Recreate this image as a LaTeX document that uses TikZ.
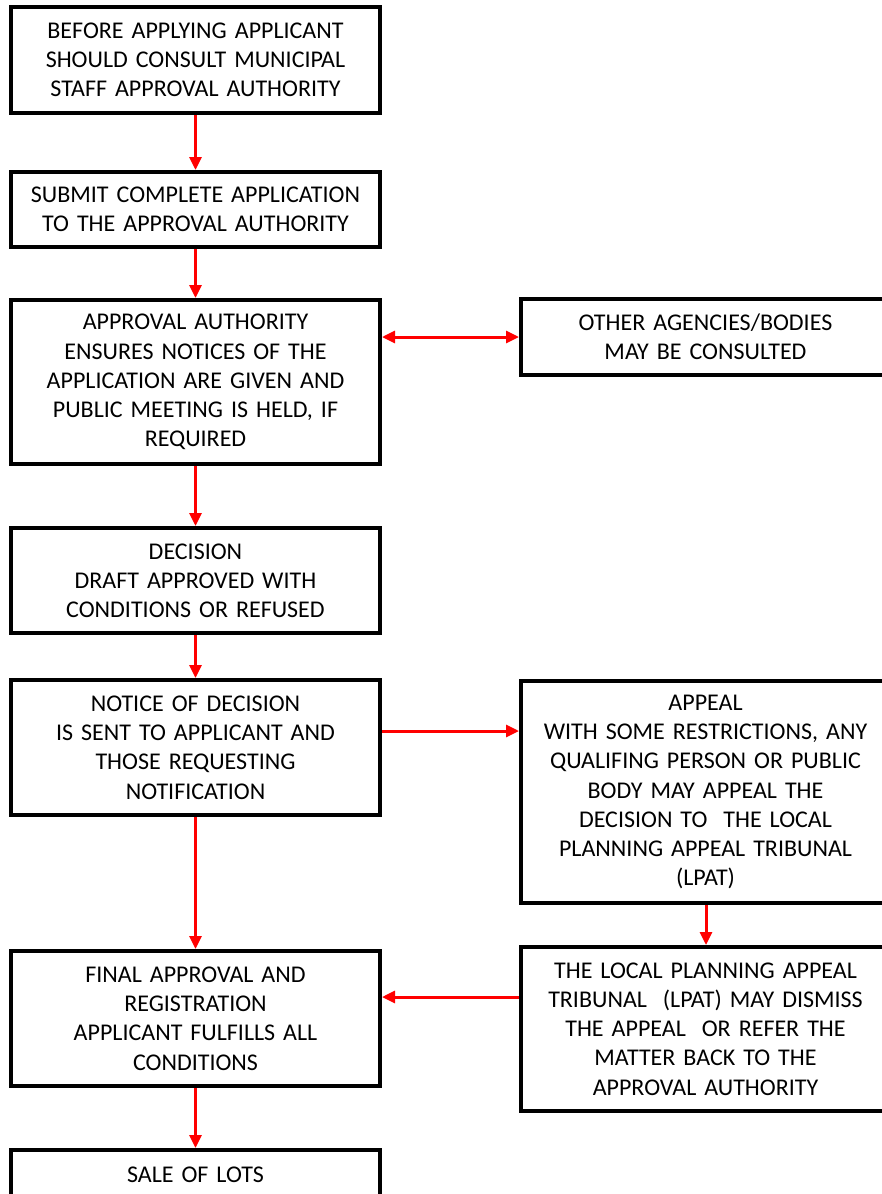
\documentclass[tikz,border=0pt]{standalone}
\usepackage{fontspec}
\setmainfont{Carlito}
\usetikzlibrary{arrows.meta}

\begin{document}
\begin{tikzpicture}[x = 0.5pt, y = -0.5pt, > = {Triangle[length=6.5pt, width=6pt]},
		box/.style = {draw, line width = 2pt, rectangle, minimum width = 184.5pt, text width = 180pt, align = center, inner sep = 0pt, font = \fontsize{12}{14.6}\selectfont}]

	\useasboundingbox (0, 0) rectangle (882, 1194);
	\clip (0, 0) rectangle (882, 1194);

	\node [box, minimum height = 53pt] (before) at (195.5, 60) {BEFORE APPLYING APPLICANT\\ SHOULD CONSULT MUNICIPAL\\ STAFF APPROVAL AUTHORITY};
	\node [box, minimum height = 37.5pt] (submit) at (195.5, 209.5) {SUBMIT COMPLETE APPLICATION\\ TO THE APPROVAL AUTHORITY};
	\node [box, minimum height = 82pt] (ensure) at (195.5, 382) {APPROVAL AUTHORITY\\ ENSURES NOTICES OF THE\\ APPLICATION ARE GIVEN AND\\ PUBLIC MEETING IS HELD, IF\\ REQUIRED};
	\node [box, minimum height = 52.5pt] (decision) at (195.5, 580.5) {DECISION\\ DRAFT APPROVED WITH\\ CONDITIONS OR REFUSED};
	\node [box, minimum height = 67.5pt] (notice) at (195.5, 747.5) {NOTICE OF DECISION\\ IS SENT TO APPLICANT AND\\ THOSE REQUESTING\\ NOTIFICATION};
	\node [box, minimum height = 67.5pt] (final) at (195.5, 1018.5) {FINAL APPROVAL AND\\ REGISTRATION\\ APPLICANT FULFILLS ALL\\ CONDITIONS};
	\node [box, minimum height = 25pt] (sale) at (195.5, 1175) {SALE OF LOTS};

	\node [box, minimum height = 38pt] (agencies) at (705.5, 337) {OTHER AGENCIES/BODIES\\ MAY BE CONSULTED};
	\node [box, minimum height = 111pt] (appeal) at (705.5, 792) {APPEAL\\ WITH SOME RESTRICTIONS, ANY\\ QUALIFING PERSON OR PUBLIC\\ BODY MAY APPEAL THE\\ DECISION TO~ THE LOCAL\\ PLANNING APPEAL TRIBUNAL\\ (LPAT)};
	\node [box, minimum height = 82pt] (lpat) at (705.5, 1029) {THE LOCAL PLANNING APPEAL\\ TRIBUNAL~ (LPAT) MAY DISMISS\\ THE APPEAL~ OR REFER THE\\ MATTER BACK TO THE\\ APPROVAL AUTHORITY};

	\begin{scope}[->, red, line width = 1.5pt]

		\draw (before) -- (submit);
		\draw (submit) -- (ensure);
		\draw (ensure) -- (decision);
		\draw (decision) -- (notice);
		\draw (notice) -- (final);
		\draw (final) -- (sale);

		\draw [<->] (agencies.west -| ensure.east) -- (agencies.west);
		\draw ([yshift = 8.25pt] notice.east) -- ([yshift = 8.25pt] notice.east -| appeal.west);
		\draw (appeal.south -| 706, 0) -- (lpat.north -| 706, 0);
		\draw ([yshift = 16pt] lpat.west) -- ([yshift = 16pt] lpat.west -| final.east);

	\end{scope}

\end{tikzpicture}
\end{document}
